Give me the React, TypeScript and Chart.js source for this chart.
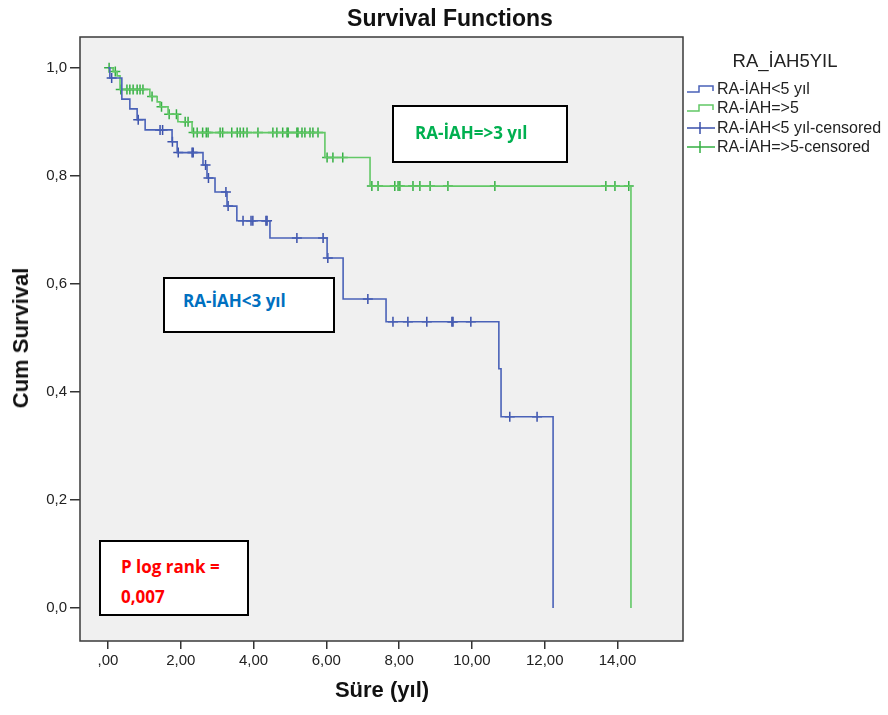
import React, { useEffect, useRef } from 'react';
import { Chart, registerables } from 'chart.js';
Chart.register(...registerables);

// Axis ticks
const xTickValues = [0, 2, 4, 6, 8, 10, 12, 14];
const yTickValues = [0, 0.2, 0.4, 0.6, 0.8, 1.0];

// RA-İAH<5 yıl (blue) – Kaplan–Meier event times and survival after each event
const blueEventTimes = [0.05, 0.38, 0.60, 0.80, 1.02, 1.76, 1.90, 2.61, 2.72, 2.94, 3.27, 3.54, 4.45, 6.02, 6.46, 7.64, 10.74, 10.80, 12.23];
const blueSurvival = [0.981, 0.942, 0.924, 0.904, 0.885, 0.863, 0.843, 0.820, 0.796, 0.770, 0.744, 0.717, 0.685, 0.648, 0.572, 0.530, 0.443, 0.354, 0];
const blueCensorTimes = [0.1, 0.83, 1.43, 1.5, 1.77, 1.93, 2.31, 2.34, 2.68, 2.76, 3.24, 3.30, 3.71, 3.93, 3.98, 4.34, 4.37, 5.19, 5.91, 6.04, 7.14, 7.83, 8.24, 8.76, 9.45, 9.48, 9.97, 11.04, 11.79];

// RA-İAH=>5 (green)
const greenEventTimes = [0.14, 0.25, 0.33, 1.15, 1.35, 1.43, 1.65, 1.92, 2.31, 5.96, 7.2, 14.37];
const greenSurvival = [0.993, 0.985, 0.960, 0.947, 0.937, 0.928, 0.914, 0.900, 0.880, 0.834, 0.781, 0];
const greenCensorTimes = [0.03, 0.2, 0.35, 0.52, 0.6, 0.69, 0.8, 0.88, 0.96, 1.21, 1.47, 1.68, 1.88, 2.12, 2.2, 2.35, 2.45, 2.6, 2.7, 2.75, 3.08, 3.15, 3.4, 3.55, 3.63, 3.72, 3.82, 4.12, 4.53, 4.64, 4.8, 4.92, 4.95, 5.19, 5.22, 5.33, 5.41, 5.55, 5.63, 5.77, 6.02, 6.18, 6.45, 7.25, 7.42, 7.88, 7.97, 8.02, 8.38, 8.57, 8.85, 9.34, 10.63, 13.68, 13.93, 14.31];

const BLUE_LINE = '#4a62b8';
const BLUE_MARK = '#3a50aa';
const GREEN_LINE = '#62c866';
const GREEN_MARK = '#35b043';

function stepPoints(times: number[], surv: number[]) {
  const pts = [{ x: 0, y: 1 }];
  times.forEach((t, i) => pts.push({ x: t, y: surv[i] }));
  return pts;
}
function survAt(times: number[], surv: number[], t: number) {
  let s = 1;
  times.forEach((tt, i) => { if (tt <= t) s = surv[i]; });
  return s;
}
function censorPoints(times: number[], surv: number[], cens: number[]) {
  return cens.map((t) => ({ x: t, y: survAt(times, surv, t) }));
}

const framePlugin = {
  id: 'frame',
  beforeDraw(chart: any) {
    const { ctx, chartArea: a } = chart;
    ctx.save();
    ctx.fillStyle = '#f0f0f0';
    ctx.fillRect(a.left, a.top, a.right - a.left, a.bottom - a.top);
    ctx.restore();
  },
  afterDraw(chart: any) {
    const { ctx, chartArea: a } = chart;
    ctx.save();
    ctx.strokeStyle = '#3a3a3a';
    ctx.lineWidth = 1.5;
    ctx.strokeRect(a.left, a.top, a.right - a.left, a.bottom - a.top);
    ctx.restore();
  },
};

const FONT = '"Liberation Sans", Arial, sans-serif';

function StepIcon({ color }: { color: string }) {
  return (
    <svg width="30" height="12" style={{ position: 'absolute', left: 686, top: 0 }}>
      <path d="M1 9 H13 V3 H27 V8" fill="none" stroke={color} strokeWidth="1.5" />
    </svg>
  );
}
function CrossIcon({ color }: { color: string }) {
  return (
    <svg width="30" height="14" style={{ position: 'absolute', left: 686, top: -1 }}>
      <path d="M1 7 H29 M14 1 V13" fill="none" stroke={color} strokeWidth="1.5" />
    </svg>
  );
}

export default function App() {
  const ref = useRef<HTMLCanvasElement>(null);
  useEffect(() => {
    document.body.style.margin = '0';
    const chart = new Chart(ref.current!, {
      type: 'line',
      data: {
        datasets: [
          {
            data: stepPoints(blueEventTimes, blueSurvival),
            borderColor: BLUE_LINE,
            borderWidth: 1.6,
            stepped: 'before',
            pointRadius: 0,
            fill: false,
          } as any,
          {
            data: stepPoints(greenEventTimes, greenSurvival),
            borderColor: GREEN_LINE,
            borderWidth: 1.6,
            stepped: 'before',
            pointRadius: 0,
            fill: false,
          } as any,
          {
            data: censorPoints(blueEventTimes, blueSurvival, blueCensorTimes),
            showLine: false,
            pointStyle: 'cross',
            pointRadius: 5,
            pointBorderWidth: 1.5,
            borderColor: BLUE_MARK,
            backgroundColor: BLUE_MARK,
          } as any,
          {
            data: censorPoints(greenEventTimes, greenSurvival, greenCensorTimes),
            showLine: false,
            pointStyle: 'cross',
            pointRadius: 5,
            pointBorderWidth: 1.5,
            borderColor: GREEN_MARK,
            backgroundColor: GREEN_MARK,
          } as any,
        ],
      },
      options: {
        responsive: false,
        animation: false,
        events: [],
        layout: { padding: { left: 0, top: 37, right: 205, bottom: 0 } },
        plugins: { legend: { display: false }, tooltip: { enabled: false }, title: { display: false } },
        scales: {
          x: {
            type: 'linear',
            min: -0.77,
            max: 15.8,
            afterFit: (s: any) => { s.height = 74; },
            afterBuildTicks: (s: any) => { s.ticks = xTickValues.map((v) => ({ value: v })); },
            ticks: {
              autoSkip: false,
              maxRotation: 0,
              padding: 3,
              color: '#222',
              font: { family: FONT, size: 15 },
              callback: (v: any) => (v === 0 ? ',00' : Number(v).toFixed(2).replace('.', ',')),
            },
            grid: { drawOnChartArea: false, drawTicks: true, tickLength: 8, color: '#333', lineWidth: 1.5 },
            border: { display: false },
          },
          y: {
            type: 'linear',
            min: -0.061,
            max: 1.057,
            afterFit: (s: any) => { s.width = 80; },
            afterBuildTicks: (s: any) => { s.ticks = yTickValues.map((v) => ({ value: v })); },
            ticks: {
              padding: 3,
              color: '#222',
              font: { family: FONT, size: 15 },
              callback: (v: any) => Number(v).toFixed(1).replace('.', ','),
            },
            grid: { drawOnChartArea: false, drawTicks: true, tickLength: 10, color: '#333', lineWidth: 1.5 },
            border: { display: false },
          },
        },
      } as any,
      plugins: [framePlugin],
    });
    return () => chart.destroy();
  }, []);

  const legendItems = [
    { label: 'RA-İAH<5 yıl', color: BLUE_LINE, kind: 'step', y: 89 },
    { label: 'RA-İAH=>5', color: GREEN_LINE, kind: 'step', y: 108 },
    { label: 'RA-İAH<5 yıl-censored', color: BLUE_MARK, kind: 'cross', y: 128 },
    { label: 'RA-İAH=>5-censored', color: GREEN_MARK, kind: 'cross', y: 147 },
  ];

  const annFont = '"Open Sans", Lato, sans-serif';

  return (
    <div style={{ position: 'absolute', left: 0, top: 0, width: 888, height: 715, background: '#fff', fontFamily: FONT, overflow: 'hidden' }}>
      <canvas ref={ref} width={888} height={715} style={{ position: 'absolute', left: 0, top: 0 }} />
      <div style={{ position: 'absolute', left: 450, top: 18, transform: 'translate(-50%,-50%)', fontSize: 23, fontWeight: 'bold', whiteSpace: 'nowrap', color: '#111' }}>Survival Functions</div>
      <div style={{ position: 'absolute', left: 21, top: 338, transform: 'translate(-50%,-50%) rotate(-90deg)', fontSize: 22, fontWeight: 'bold', whiteSpace: 'nowrap', color: '#111' }}>Cum Survival</div>
      <div style={{ position: 'absolute', left: 382, top: 690, transform: 'translate(-50%,-50%)', fontSize: 22, fontWeight: 'bold', whiteSpace: 'nowrap', color: '#111' }}>Süre (yıl)</div>

      <div style={{ position: 'absolute', left: 785, top: 61, transform: 'translate(-50%,-50%)', fontSize: 18.5, whiteSpace: 'nowrap', color: '#222' }}>RA_İAH5YIL</div>
      {legendItems.map((it) => (
        <div key={it.label} style={{ position: 'absolute', left: 0, top: it.y - 6, width: 888, height: 12 }}>
          {it.kind === 'step' ? <StepIcon color={it.color} /> : <CrossIcon color={it.color} />}
          <div style={{ position: 'absolute', left: 717, top: 6, transform: 'translateY(-50%)', fontSize: 16, whiteSpace: 'nowrap', color: '#222' }}>{it.label}</div>
        </div>
      ))}

      <div style={{ position: 'absolute', left: 392, top: 105, width: 176, height: 58, boxSizing: 'border-box', border: '2px solid #000', background: '#fff' }}>
        <div style={{ position: 'absolute', left: 21, top: 25, transform: 'translateY(-50%)', fontFamily: annFont, fontWeight: 'bold', fontSize: 17, color: '#00b050', whiteSpace: 'nowrap' }}>RA-İAH=&gt;3 yıl</div>
      </div>
      <div style={{ position: 'absolute', left: 163, top: 277, width: 172, height: 56, boxSizing: 'border-box', border: '2px solid #000', background: '#fff' }}>
        <div style={{ position: 'absolute', left: 18, top: 21, transform: 'translateY(-50%)', fontFamily: annFont, fontWeight: 'bold', fontSize: 17, color: '#0070c0', whiteSpace: 'nowrap' }}>RA-İAH&lt;3 yıl</div>
      </div>
      <div style={{ position: 'absolute', left: 99, top: 540, width: 150, height: 76, boxSizing: 'border-box', border: '2px solid #000', background: '#fff' }}>
        <div style={{ position: 'absolute', left: 20, top: 24, transform: 'translateY(-50%)', fontFamily: annFont, fontWeight: 'bold', fontSize: 17, color: '#ff0000', whiteSpace: 'nowrap' }}>P log rank =</div>
        <div style={{ position: 'absolute', left: 20, top: 54, transform: 'translateY(-50%)', fontFamily: annFont, fontWeight: 'bold', fontSize: 17, color: '#ff0000', whiteSpace: 'nowrap' }}>0,007</div>
      </div>
    </div>
  );
}
